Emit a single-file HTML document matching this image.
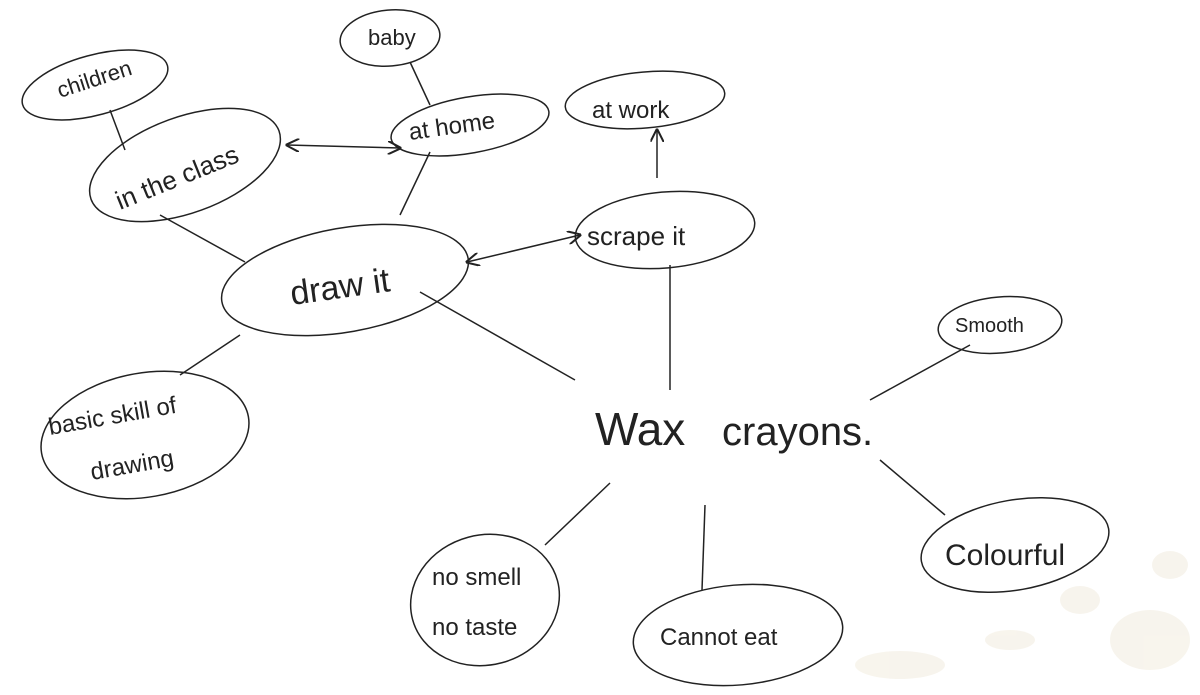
<!DOCTYPE html>
<html><head><meta charset="utf-8">
<style>
html,body{margin:0;padding:0;background:#fff;}
svg{display:block;}
text{font-family:"Liberation Sans",sans-serif;fill:#222;font-weight:300;}
</style></head>
<body>
<svg width="1200" height="695" viewBox="0 0 1200 695" xmlns="http://www.w3.org/2000/svg">
<defs>
<marker id="a" viewBox="0 0 10 10" refX="9" refY="5" markerWidth="9" markerHeight="9" orient="auto-start-reverse">
<path d="M0,0 L10,5 L0,10" fill="none" stroke="#222" stroke-width="1.5"/>
</marker>
</defs>
<g fill="#efe8d8" opacity="0.45">
<ellipse cx="1150" cy="640" rx="40" ry="30"/>
<ellipse cx="1080" cy="600" rx="20" ry="14"/>
<ellipse cx="900" cy="665" rx="45" ry="14"/>
<ellipse cx="1170" cy="565" rx="18" ry="14"/>
<ellipse cx="1010" cy="640" rx="25" ry="10"/>
</g>
<g fill="none" stroke="#222" stroke-width="1.5">
<ellipse cx="390" cy="38" rx="50" ry="28" transform="rotate(-5 390 38)"/>
<ellipse cx="95" cy="85" rx="75" ry="30" transform="rotate(-15 95 85)"/>
<ellipse cx="470" cy="125" rx="80" ry="28" transform="rotate(-10 470 125)"/>
<ellipse cx="645" cy="100" rx="80" ry="28" transform="rotate(-5 645 100)"/>
<ellipse cx="185" cy="165" rx="100" ry="48" transform="rotate(-20 185 165)"/>
<ellipse cx="665" cy="230" rx="90" ry="38" transform="rotate(-5 665 230)"/>
<ellipse cx="345" cy="280" rx="125" ry="52" transform="rotate(-10 345 280)"/>
<ellipse cx="1000" cy="325" rx="62" ry="28" transform="rotate(-5 1000 325)"/>
<ellipse cx="145" cy="435" rx="105" ry="62" transform="rotate(-10 145 435)"/>
<ellipse cx="1015" cy="545" rx="95" ry="45" transform="rotate(-10 1015 545)"/>
<ellipse cx="485" cy="600" rx="75" ry="65" transform="rotate(-15 485 600)"/>
<ellipse cx="738" cy="635" rx="105" ry="50" transform="rotate(-5 738 635)"/>
<path d="M110 110 L125 150"/>
<path d="M287 145 L400 148" marker-start="url(#a)" marker-end="url(#a)"/>
<path d="M410 62 L430 105"/>
<path d="M430 152 L400 215"/>
<path d="M160 215 L245 262"/>
<path d="M467 262 L580 235" marker-start="url(#a)" marker-end="url(#a)"/>
<path d="M657 178 L657 130" marker-end="url(#a)"/>
<path d="M670 265 L670 390"/>
<path d="M420 292 L575 380"/>
<path d="M240 335 L180 375"/>
<path d="M870 400 L970 345"/>
<path d="M880 460 L945 515"/>
<path d="M610 483 L545 545"/>
<path d="M705 505 L702 590"/>
</g>
<text x="368" y="45" font-size="22">baby</text>
<text x="60" y="98" font-size="22" transform="rotate(-18 60 98)">children</text>
<text x="410" y="140" font-size="24" transform="rotate(-8 410 140)">at home</text>
<text x="592" y="118" font-size="24">at work</text>
<text x="120" y="210" font-size="26" transform="rotate(-22 120 210)">in the class</text>
<text x="587" y="245" font-size="26">scrape it</text>
<text x="292" y="305" font-size="34" transform="rotate(-8 292 305)">draw it</text>
<text x="955" y="332" font-size="20">Smooth</text>
<text x="50" y="435" font-size="24" transform="rotate(-10 50 435)">basic skill of</text>
<text x="92" y="480" font-size="24" transform="rotate(-10 92 480)">drawing</text>
<text x="595" y="445" font-size="46">Wax</text>
<text x="722" y="445" font-size="40">crayons.</text>
<text x="945" y="565" font-size="30">Colourful</text>
<text x="432" y="585" font-size="24">no smell</text>
<text x="432" y="635" font-size="24">no taste</text>
<text x="660" y="645" font-size="24">Cannot eat</text>
</svg>
</body></html>
